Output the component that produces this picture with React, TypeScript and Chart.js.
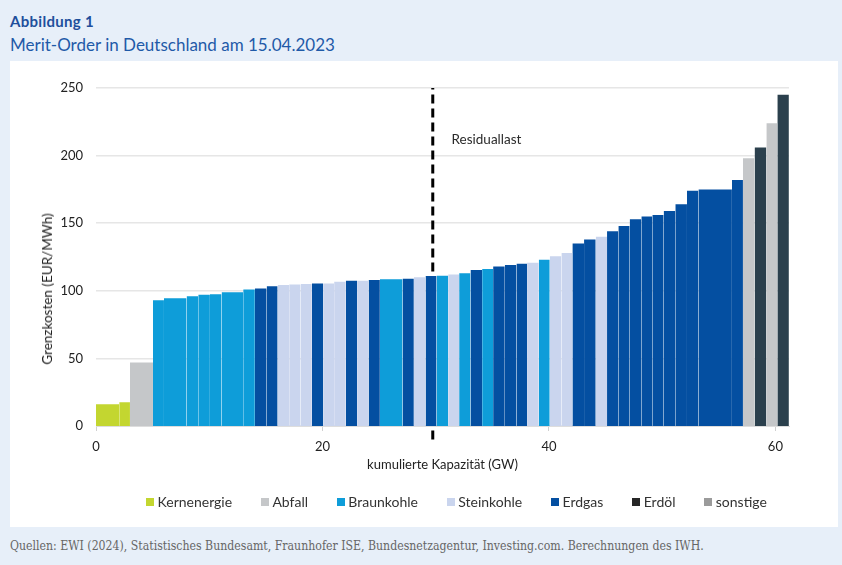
import { useEffect, useRef } from "react";
import { Chart, registerables } from "chart.js";

Chart.register(...registerables);

// Fuel types (legend order)
const fuels = ["Kernenergie", "Abfall", "Braunkohle", "Steinkohle", "Erdgas", "Erdöl", "sonstige"];
const fuelColors = ["#c3d630", "#c5c7c9", "#0e9dd9", "#cad5ee", "#044fa1", "#2b404d", "#9b9b9b"];
const legendColors = ["#c3d630", "#c5c7c9", "#0e9dd9", "#cad5ee", "#044fa1", "#262626", "#9b9b9b"];

// Merit-order blocks: fuel index, capacity (GW), marginal cost (EUR/MWh)
const blockFuel = [
  0, 0, 1, 2, 2, 2, 2, 2, 2, 2,
  4, 4, 3, 3, 3, 4, 3, 3, 4, 3,
  4, 2, 4, 3, 4, 2, 3, 2, 4, 2,
  4, 4, 4, 3, 2, 3, 3, 4, 4, 3,
  4, 4, 4, 4, 4, 4, 4, 4, 4, 4,
  1, 5, 1, 5,
];
const blockWidth = [
  2.05, 0.95, 2.03, 0.97, 2.0, 1.03, 1.03, 1.03, 1.91, 1.03,
  1.04, 0.97, 1.02, 1.01, 0.99, 1.0, 0.97, 1.03, 1.0, 1.01,
  1.0, 2.0, 1.0, 1.03, 0.97, 1.03, 0.97, 1.0, 1.03, 0.97,
  1.03, 1.03, 0.94, 1.03, 0.97, 1.03, 0.97, 1.03, 1.03, 1.0,
  1.0, 1.0, 1.03, 0.97, 1.0, 1.03, 1.03, 1.01, 2.96, 0.97,
  1.03, 1.04, 0.97, 1.02,
];
const blockCost = [
  16, 17.5, 47, 93, 94.5, 96, 97, 97.5, 99, 101,
  101.7, 103.4, 104.3, 104.7, 105, 105.4, 105.4, 106.7, 107.5, 107.5,
  108, 108.5, 109, 110.1, 111, 111.2, 112, 113, 115.4, 116.1,
  118, 119, 120, 120.8, 123, 125.5, 128, 135, 138, 140,
  144, 148, 153, 155, 156, 159, 164, 174, 175, 182,
  198, 206, 224, 245,
];

const residualLoad = 29.74; // GW
const residualLabel = "Residuallast";
const xMax = 61.2;
const yMax = 250;

const residualLabelPlugin = {
  id: "residualLabel",
  afterDatasetsDraw(chart: any) {
    const { ctx, scales } = chart;
    const x = scales.x.getPixelForValue(31.4);
    const y = scales.y.getPixelForValue(212);
    ctx.save();
    ctx.font = "13.5px Lato, 'Noto Sans', sans-serif";
    ctx.fillStyle = "#2a2a2a";
    ctx.textAlign = "left";
    ctx.textBaseline = "middle";
    ctx.fillText(residualLabel, x, y);
    ctx.restore();
  },
};

export default function App() {
  const canvasRef = useRef<HTMLCanvasElement | null>(null);

  useEffect(() => {
    if (!canvasRef.current) return;
    Chart.defaults.font.family = "Lato, 'Noto Sans', sans-serif";

    let x0 = 0;
    const datasets: any[] = blockCost.map((cost, i) => {
      const x1 = x0 + blockWidth[i];
      const ds = {
        type: "line",
        label: fuels[blockFuel[i]],
        data: [
          { x: x0, y: cost },
          { x: x1, y: cost },
        ],
        fill: "origin",
        backgroundColor: fuelColors[blockFuel[i]],
        borderColor: fuelColors[blockFuel[i]],
        borderWidth: 0,
        pointRadius: 0,
        tension: 0,
      };
      x0 = x1;
      return ds;
    });

    datasets.push({
      type: "line",
      label: residualLabel,
      data: [
        { x: residualLoad, y: -10 },
        { x: residualLoad, y: yMax },
      ],
      borderColor: "#000000",
      borderWidth: 3,
      borderDash: [9, 5],
      pointRadius: 0,
      fill: false,
      clip: false,
    });

    const chart = new Chart(canvasRef.current, {
      type: "line",
      data: { datasets },
      plugins: [residualLabelPlugin],
      options: {
        animation: false,
        responsive: false,
        maintainAspectRatio: false,
        layout: { padding: { top: 27, right: 49, left: 0, bottom: 54 } },
        plugins: {
          tooltip: { enabled: false },
          legend: { display: false },
        },
        scales: {
          x: {
            type: "linear",
            min: 0,
            max: xMax,
            afterFit: (scale: any) => {
              scale.height = 47;
            },
            ticks: {
              stepSize: 20,
              includeBounds: false,
              color: "#222222",
              font: { size: 13 },
              padding: 8,
            },
            grid: { drawOnChartArea: false, drawTicks: true, tickLength: 5, color: "#d0d0d0" },
            border: { display: true, color: "#dddddd", width: 1 },
            title: {
              display: true,
              text: "kumulierte Kapazität (GW)",
              color: "#222222",
              font: { size: 13 },
              padding: { top: 0, bottom: 0 },
            },
          },
          y: {
            min: 0,
            max: yMax,
            afterFit: (scale: any) => {
              scale.width = 86;
            },
            ticks: { stepSize: 50, color: "#222222", font: { size: 13 }, padding: 13 },
            grid: { color: "#e6e6e6", lineWidth: 1.5, drawTicks: false },
            border: { display: false },
            title: { display: false },
          },
        },
      },
    } as any);

    return () => chart.destroy();
  }, []);

  return (
    <div
      style={{
        position: "fixed",
        left: 0,
        top: 0,
        width: 842,
        height: 565,
        background: "#e7eff9",
        fontFamily: "Lato, 'Noto Sans', sans-serif",
      }}
    >
      <div
        style={{
          position: "absolute",
          left: 10,
          top: 12,
          fontSize: 15,
          fontWeight: 700,
          color: "#1f4f9c",
          letterSpacing: 0.3,
        }}
      >
        Abbildung 1
      </div>
      <div style={{ position: "absolute", left: 10, top: 34, fontSize: 17, color: "#1f5aa8" }}>
        Merit-Order in Deutschland am 15.04.2023
      </div>
      <div style={{ position: "absolute", left: 10, top: 61, width: 828, height: 466, background: "#ffffff" }}>
        <canvas ref={canvasRef} width={828} height={466} style={{ display: "block", width: 828, height: 466 }} />
        <div
          style={{
            position: "absolute",
            left: 37,
            top: 228,
            transform: "translate(-50%, -50%) rotate(-90deg)",
            fontSize: 13.5,
            color: "#222222",
            whiteSpace: "nowrap",
          }}
        >
          Grenzkosten (EUR/MWh)
        </div>
        <div
          style={{
            position: "absolute",
            left: 136,
            top: 432,
            display: "flex",
            alignItems: "center",
            fontSize: 14,
            color: "#333333",
            whiteSpace: "nowrap",
          }}
        >
          {fuels.map((f, i) => (
            <div key={f} style={{ display: "flex", alignItems: "center", marginRight: 28.8 }}>
              <span
                style={{ width: 8, height: 8, background: legendColors[i], display: "inline-block", marginRight: 3.5 }}
              />
              <span>{f}</span>
            </div>
          ))}
        </div>
      </div>
      <div
        style={{
          position: "absolute",
          left: 10,
          top: 539,
          fontSize: 12.2,
          color: "#666666",
          fontFamily: "'DejaVu Serif Condensed', 'DejaVu Serif', serif",
          fontStretch: "condensed",
          whiteSpace: "nowrap",
        }}
      >
        Quellen: EWI (2024), Statistisches Bundesamt, Fraunhofer ISE, Bundesnetzagentur, Investing.com. Berechnungen des IWH.
      </div>
    </div>
  );
}
